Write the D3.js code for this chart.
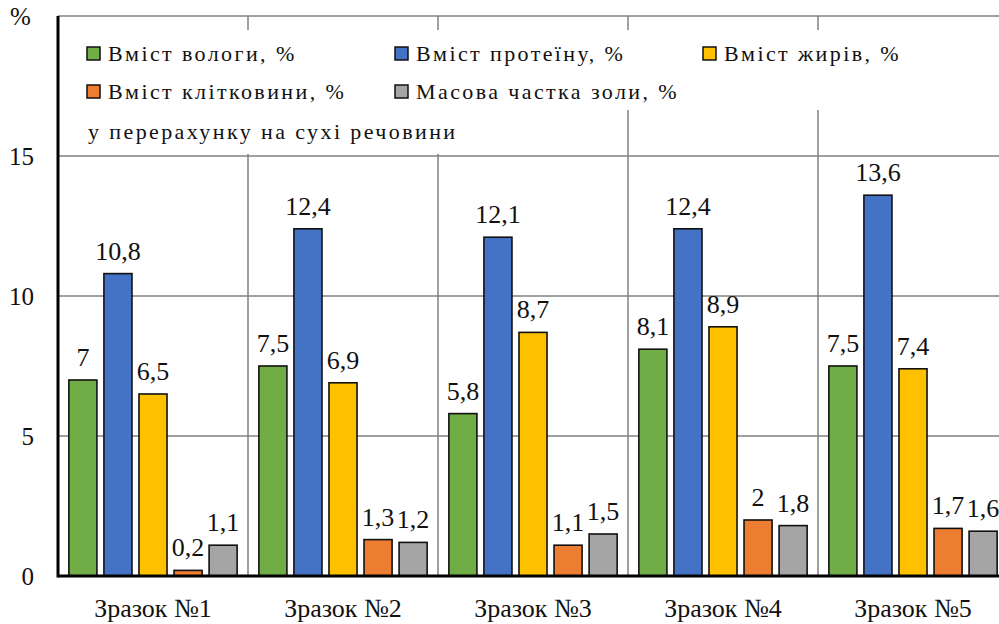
<!DOCTYPE html>
<html><head><meta charset="utf-8">
<script src="https://cdn.jsdelivr.net/npm/d3@7"></script>
<style>body{margin:0;background:#fff}svg{display:block}</style>
</head><body><svg id="c" width="999" height="624"></svg>
<script>
const categories = ["Зразок №1","Зразок №2","Зразок №3","Зразок №4","Зразок №5"];
const seriesNames = ["Вміст вологи, %","Вміст протеїну, %","Вміст жирів, %","Вміст клітковини, %","Масова частка золи, %"];
const seriesColors = ["#70AD47","#4472C4","#FFC000","#ED7D31","#A5A5A5"];
const moisture = [7, 7.5, 5.8, 8.1, 7.5];
const protein = [10.8, 12.4, 12.1, 12.4, 13.6];
const fat = [6.5, 6.9, 8.7, 8.9, 7.4];
const fiber = [0.2, 1.3, 1.1, 2, 1.7];
const ash = [1.1, 1.2, 1.5, 1.8, 1.6];
const yTicks = [0, 5, 10, 15, 20];
const note = "у перерахунку на сухі речовини";
const values = [moisture, protein, fat, fiber, ash];

const FONT = '"Liberation Serif"';
const svg = d3.select("#c");
const pLeft = 58, pRight = 1008, pTop = 16, pBottom = 576;
const x0 = d3.scaleBand().domain(categories).range([pLeft, pRight]).padding(0);
const x1 = d3.scaleBand().domain(d3.range(5)).range([0, x0.bandwidth()]).paddingInner(0.2).paddingOuter(0.31);
const y = d3.scaleLinear().domain([0, 20]).range([pBottom, pTop]);

function txt(sel, size) {
  return sel.style("font-family", FONT).style("font-size", size + "px").style("fill", "#111");
}

svg.append("g").selectAll("line").data(yTicks.filter(d => d > 0)).join("line")
  .attr("x1", pLeft).attr("x2", pRight).attr("y1", d => y(d)).attr("y2", d => y(d))
  .attr("stroke", "#808080").attr("stroke-width", 1.5);
svg.append("g").selectAll("line").data(categories.slice(1)).join("line")
  .attr("x1", d => x0(d)).attr("x2", d => x0(d)).attr("y1", pTop).attr("y2", pBottom)
  .attr("stroke", "#808080").attr("stroke-width", 1.5);

svg.append("rect").attr("x", 62).attr("y", 30).attr("width", 840).attr("height", 80).attr("fill", "#fff");
svg.append("rect").attr("x", 62).attr("y", 110).attr("width", 410).attr("height", 44).attr("fill", "#fff");

const groups = svg.append("g").selectAll("g").data(categories).join("g")
  .attr("transform", d => `translate(${x0(d)},0)`);
groups.each(function(cat, ci) {
  const g = d3.select(this);
  const data = values.map((arr, si) => ({si, v: arr[ci]}));
  g.selectAll("rect").data(data).join("rect")
    .attr("x", d => x1(d.si)).attr("width", x1.bandwidth())
    .attr("y", d => y(d.v)).attr("height", d => y(0) - y(d.v))
    .attr("fill", d => seriesColors[d.si]).attr("stroke", "#111").attr("stroke-width", 1.6);
  txt(g.selectAll("text").data(data).join("text")
    .attr("x", d => x1(d.si) + x1.bandwidth() / 2).attr("y", d => y(d.v) - 14)
    .attr("text-anchor", "middle"), 26)
    .text(d => String(d.v).replace(".", ","));
});

svg.append("line").attr("x1", pLeft).attr("x2", pLeft).attr("y1", pTop).attr("y2", pBottom + 1.5)
  .attr("stroke", "#000").attr("stroke-width", 3);
svg.append("line").attr("x1", pLeft).attr("x2", pRight).attr("y1", pBottom).attr("y2", pBottom)
  .attr("stroke", "#000").attr("stroke-width", 3);

txt(svg.append("g").selectAll("text").data(yTicks.slice(0, 4)).join("text")
  .attr("x", 34).attr("y", d => y(d)).attr("dy", "0.35em").attr("text-anchor", "end"), 25).text(d => d);
txt(svg.append("text").attr("x", 10).attr("y", 25), 25).text("%");

txt(svg.append("g").selectAll("text").data(categories).join("text")
  .attr("x", d => x0(d) + x0.bandwidth() / 2).attr("y", 617).attr("text-anchor", "middle"), 26).text(d => d);

const legPos = [[87, 47], [395, 47], [703, 47], [87, 85], [395, 85]];
const leg = svg.append("g").selectAll("g").data(seriesNames).join("g")
  .attr("transform", (d, i) => `translate(${legPos[i][0]},${legPos[i][1]})`);
leg.append("rect").attr("width", 13).attr("height", 13)
  .attr("fill", (d, i) => seriesColors[i]).attr("stroke", "#111").attr("stroke-width", 1.5);
txt(leg.append("text").attr("x", 21).attr("y", 14), 22).style("letter-spacing", "2.4px").text(d => d);
txt(svg.append("text").attr("x", 88).attr("y", 139), 22).style("letter-spacing", "2.4px").text(note);
</script></body></html>
